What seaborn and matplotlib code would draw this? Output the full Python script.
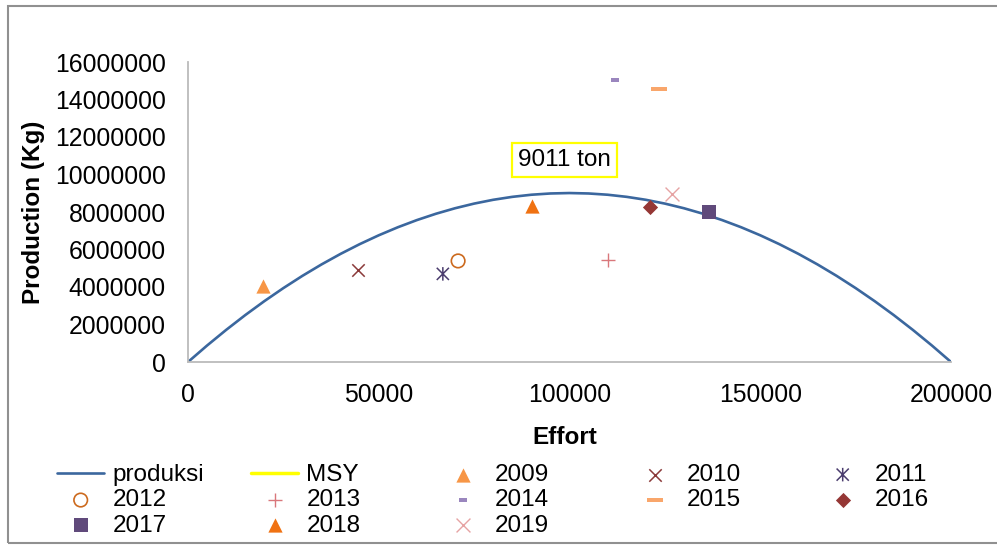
import numpy as np
import pandas as pd
import matplotlib
matplotlib.use("Agg")
import matplotlib.pyplot as plt
from matplotlib.path import Path
from matplotlib.patches import Rectangle
import seaborn as sns

# Surplus-production curve (effort vs. production, kg)
curve_effort = [0, 5000, 10000, 15000, 20000, 25000, 30000, 35000, 40000, 45000, 50000,
                55000, 60000, 65000, 70000, 75000, 80000, 85000, 90000, 95000, 100000,
                105000, 110000, 115000, 120000, 125000, 130000, 135000, 140000, 145000, 150000,
                155000, 160000, 165000, 170000, 175000, 180000, 185000, 190000, 195000, 200000]
curve_production = [0, 879000, 1712000, 2501000, 3244000, 3942000, 4596000, 5204000, 5767000,
                    6285000, 6758000, 7186000, 7569000, 7907000, 8200000, 8448000, 8651000,
                    8808000, 8921000, 8988000, 9011000, 8988000, 8921000, 8808000, 8651000,
                    8448000, 8200000, 7907000, 7569000, 7186000, 6758000, 6285000, 5767000,
                    5204000, 4596000, 3942000, 3244000, 2501000, 1712000, 879000, 0]

# Maximum sustainable yield
msy_effort = [100000]
msy_production = [9011000]

# Observed yearly effort and production
years = ["2009", "2010", "2011", "2012", "2013", "2014", "2015", "2016", "2017", "2018", "2019"]
effort = [19700, 44600, 66800, 70800, 110100, 111900, 123500, 121100, 136600, 90200, 126900]
production = [4050000, 4900000, 4700000, 5390000, 5440000, 15040000, 14560000, 8270000,
              8000000, 8320000, 8960000]

x_ticks = [0, 50000, 100000, 150000, 200000]
y_ticks = [0, 2000000, 4000000, 6000000, 8000000, 10000000, 12000000, 14000000, 16000000]

W, H = 997, 546
sns.set_theme(style="white")
plt.rcParams["font.family"] = ["Liberation Sans", "DejaVu Sans"]
plt.rcParams["text.color"] = "black"

fig = plt.figure(figsize=(W / 100, H / 100), dpi=100)
ax = fig.add_axes([188 / W, 1 - 362 / H, (951 - 188) / W, (362 - 62) / H])

def bar_marker(w, h):
    return Path([(-w / 2, -h / 2), (w / 2, -h / 2), (w / 2, h / 2), (-w / 2, h / 2), (-w / 2, -h / 2)],
                [Path.MOVETO, Path.LINETO, Path.LINETO, Path.LINETO, Path.CLOSEPOLY])

asterisk = Path([(0, -0.5), (0, 0.5), (-0.45, -0.45), (0.45, 0.45), (-0.45, 0.45), (0.45, -0.45)],
                [Path.MOVETO, Path.LINETO, Path.MOVETO, Path.LINETO, Path.MOVETO, Path.LINETO])

styles = {
    "2009": dict(marker="^", s=105, color="#F79646", edgecolor="#F79646", linewidth=0),
    "2010": dict(marker="x", s=80, color="#8B3A3A", linewidth=1.1),
    "2011": dict(marker=asterisk, s=95, color="#4B3D6E", edgecolor="#4B3D6E", facecolor="none", linewidth=1.1),
    "2012": dict(marker="o", s=95, color="#CC6A1E", edgecolor="#CC6A1E", facecolor="none", linewidth=1.2),
    "2013": dict(marker="+", s=95, color="#D9777B", linewidth=1.0),
    "2014": dict(marker=bar_marker(1.0, 0.4), s=36, color="#9A86BE", edgecolor="#9A86BE", linewidth=0),
    "2015": dict(marker=bar_marker(1.0, 0.22), s=130, color="#F9A66B", edgecolor="#F9A66B", linewidth=0),
    "2016": dict(marker="D", s=60, color="#953735", edgecolor="#953735", linewidth=0),
    "2017": dict(marker="s", s=90, color="#604A7B", edgecolor="#604A7B", linewidth=0),
    "2018": dict(marker="^", s=105, color="#F07212", edgecolor="#F07212", linewidth=0),
    "2019": dict(marker="x", s=100, color="#E6A3A3", linewidth=1.0),
}

curve_df = pd.DataFrame({"Effort": curve_effort, "Production": curve_production})
sns.lineplot(data=curve_df, x="Effort", y="Production", ax=ax, color="#3B679E",
             linewidth=1.9, label="produksi", sort=False)
ax.plot(msy_effort, msy_production, color="#FFFF00", linewidth=2.5, label="MSY")

obs = pd.DataFrame({"year": years, "Effort": effort, "Production": production})
for yr in years:
    sub = obs[obs["year"] == yr]
    sns.scatterplot(data=sub, x="Effort", y="Production", ax=ax, label=yr,
                    clip_on=False, zorder=3, **styles[yr])

ax.text(98800, 10770000, f"{msy_production[0] / 1000:.0f} ton", fontsize=17.5, ha="center", va="center",
        color="black",
        bbox=dict(boxstyle="square,pad=0.25", facecolor="white", edgecolor="#FFFF00", linewidth=1.6))

ax.set_xlim(0, 200000)
ax.set_ylim(0, 16000000)
ax.set_xticks(x_ticks)
ax.set_xticklabels([str(v) for v in x_ticks])
ax.set_yticks(y_ticks)
ax.set_yticklabels([str(v) for v in y_ticks])
ax.tick_params(axis="both", length=0, labelsize=17.8, colors="black")
ax.tick_params(axis="y", pad=16)
ax.tick_params(axis="x", pad=15)
ax.set_xlabel("")
ax.set_ylabel("")
for side in ["top", "right"]:
    ax.spines[side].set_visible(False)
for side in ["left", "bottom"]:
    ax.spines[side].set_color("#BBBBBB")
    ax.spines[side].set_linewidth(1.3)
ax.grid(False)

fig.text(565 / W, 1 - 438 / H, "Effort", fontsize=17.5, fontweight="bold", ha="center", va="center",
         color="black")
fig.text(34 / W, 1 - 212 / H, "Production (Kg)", fontsize=17.5, fontweight="bold",
         ha="center", va="center", rotation=90, color="black")

handles, labels = ax.get_legend_handles_labels()
if ax.get_legend() is not None:
    ax.get_legend().remove()
col_x = [57, 251, 439, 631, 819]
for c in range(5):
    idx = [i for i in range(c, len(labels), 5)]
    leg = fig.legend([handles[i] for i in idx], [labels[i] for i in idx],
                     loc="upper left", bbox_to_anchor=(col_x[c] / W, 1 - 464 / H),
                     bbox_transform=fig.transFigure, frameon=False, fontsize=17.5,
                     handlelength=1.95, handletextpad=0.33, labelspacing=0.14,
                     borderpad=0, borderaxespad=0, scatterpoints=1)
    for t in leg.get_texts():
        t.set_color("black")

fig.add_artist(Rectangle((8 / W, 3 / H), 1.2, 1 - 9 / H, transform=fig.transFigure,
                         fill=False, edgecolor="#909090", linewidth=1.5))

fig.savefig("out.png", dpi=100)
